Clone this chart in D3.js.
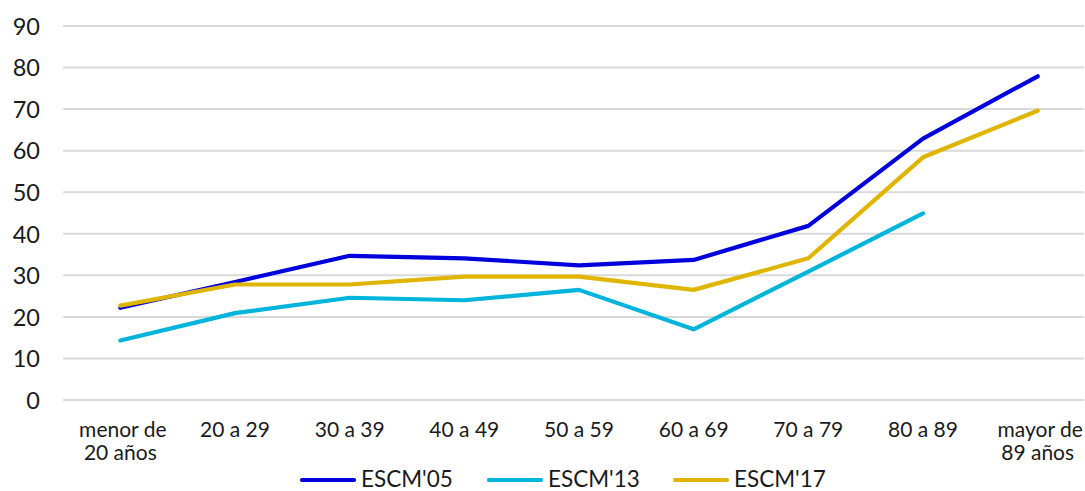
<!DOCTYPE html>
<html>
<head>
<meta charset="utf-8">
<script src="https://cdn.jsdelivr.net/npm/d3@7"></script>
<style>
  html, body { margin: 0; padding: 0; background: #fff; }
  svg { display: block; }
  text { font-family: Lato, "Open Sans", sans-serif; fill: #1a1a1a; }
</style>
</head>
<body>
<svg id="chart" width="1085" height="491"></svg>
<script>
const categories = ["menor de\n20 años", "20 a 29", "30 a 39", "40 a 49", "50 a 59", "60 a 69", "70 a 79", "80 a 89", "mayor de\n89 años"];
const seriesNames = ["ESCM'05", "ESCM'13", "ESCM'17"];
const escm05 = [22.2, 28.4, 34.7, 34.1, 32.4, 33.7, 41.9, 62.9, 77.9];
const escm13 = [14.3, 20.9, 24.6, 24.0, 26.5, 17.0, 30.9, 44.9, null];
const escm17 = [22.7, 27.8, 27.8, 29.7, 29.7, 26.5, 34.1, 58.4, 69.6];
const yTicks = [0, 10, 20, 30, 40, 50, 60, 70, 80, 90];
const colors = ["#0000dc", "#00b4dc", "#dfb500"];

(function () {
const svg = d3.select("#chart");
const mLeft = 63, mRight = 1095, mTop = 26, mBottom = 400;

const x = d3.scaleBand().domain(categories).range([mLeft, mRight]);
const y = d3.scaleLinear().domain([0, 90]).range([mBottom, mTop]);

// gridlines
svg.append("g").selectAll("line").data(yTicks).join("line")
  .attr("x1", mLeft).attr("x2", 1084)
  .attr("y1", d => y(d)).attr("y2", d => y(d))
  .attr("stroke", "#d9d9d9").attr("stroke-width", 2);

// y axis labels
const yAxis = d3.axisLeft(y).tickValues(yTicks).tickSize(0).tickPadding(0);
const yg = svg.append("g").attr("transform", "translate(40,0)").call(yAxis);
yg.select(".domain").remove();
yg.selectAll("text").attr("font-size", 23.5).attr("fill", "#1a1a1a")
  .style("font-family", "Lato, sans-serif").attr("dy", "0.35em").attr("x", 0);

// x axis labels
const xg = svg.append("g");
categories.forEach((c, k) => {
  const lines = c.split("\n");
  const cx = x(c) + x.bandwidth() / 2;
  const t = xg.append("text").attr("text-anchor", "middle").attr("font-size", 21).attr("x", cx);
  lines.forEach((l, i) => {
    t.append("tspan").attr("x", cx + (lines.length > 1 && i === 0 ? 2.5 : 0))
      .attr("y", 436.5 + i * 23.5).text(l);
  });
});

// lines
const data = [escm05, escm13, escm17];
const line = d3.line()
  .defined(d => d.v != null)
  .x(d => x(d.c) + x.bandwidth() / 2)
  .y(d => y(d.v));
data.forEach((s, i) => {
  svg.append("path")
    .datum(s.map((v, j) => ({ c: categories[j], v })))
    .attr("d", line)
    .attr("fill", "none")
    .attr("stroke", colors[i])
    .attr("stroke-width", 4.2)
    .attr("stroke-linejoin", "round")
    .attr("stroke-linecap", "round");
});

// legend
const legendX = [302, 489, 675];
const lg = svg.append("g");
seriesNames.forEach((n, i) => {
  lg.append("line").attr("x1", legendX[i]).attr("x2", legendX[i] + 52)
    .attr("y1", 480).attr("y2", 480)
    .attr("stroke", colors[i]).attr("stroke-width", 4.2).attr("stroke-linecap", "round");
  lg.append("text").attr("x", legendX[i] + 59).attr("y", 486.5)
    .attr("font-size", 22.5).text(n);
});
})();
</script>
</body>
</html>
